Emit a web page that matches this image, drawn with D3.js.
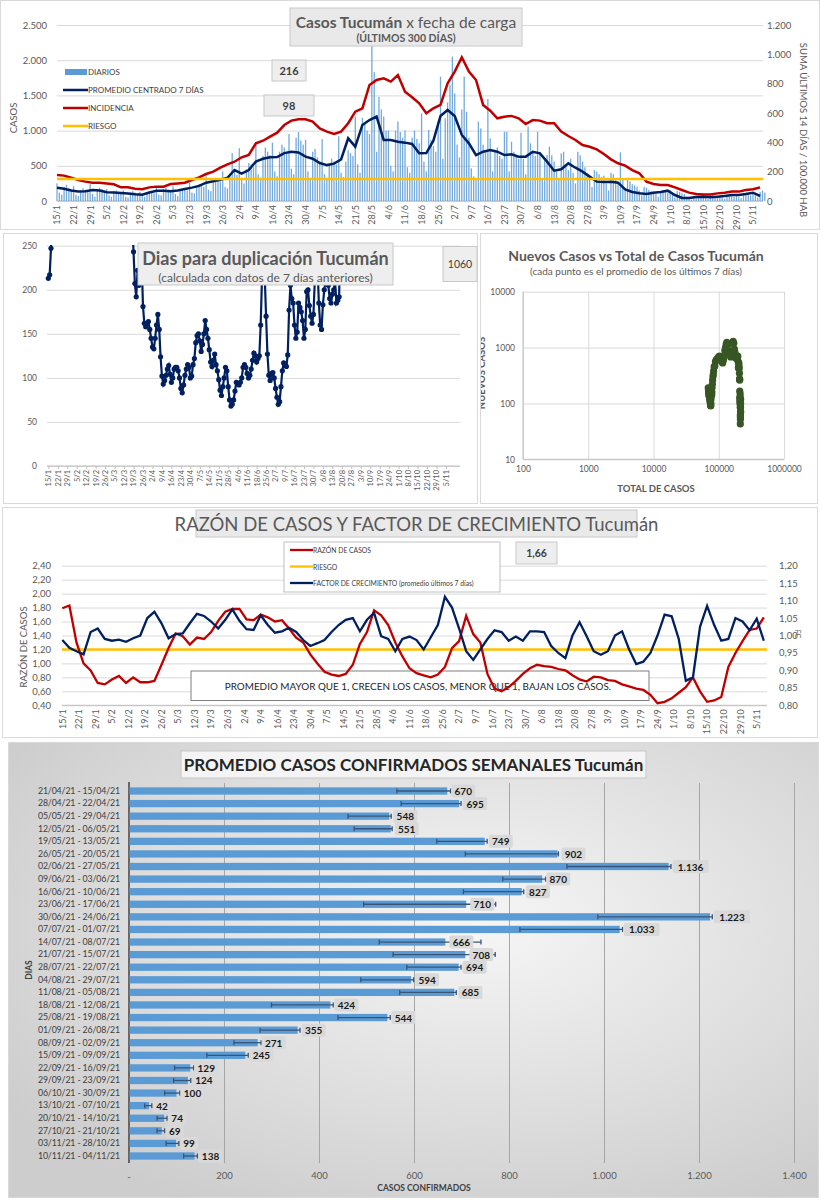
<!DOCTYPE html>
<html>
<head>
<meta charset="utf-8">
<script src="https://cdn.jsdelivr.net/npm/d3@7"></script>
<style>
  body { margin: 0; background: #fff; }
  svg { display: block; }
</style>
</head>
<body>
<svg id="chart" width="820" height="1200"></svg>
<script>
const FONT = "Lato, 'Open Sans', sans-serif"

// ---- data ----
const weekTicks = ["15/1","22/1","29/1","5/2","12/2","19/2","26/2","5/3","12/3","19/3","26/3","2/4","9/4","16/4","23/4","30/4","7/5","14/5","21/5","28/5","4/6","11/6","18/6","25/6","2/7","9/7","16/7","23/7","30/7","6/8","13/8","20/8","27/8","3/9","10/9","17/9","24/9","1/10","8/10","15/10","22/10","29/10","5/11"]

// casos diarios (300 dias desde 15/1)
const dailyCases = [
  250,120,90,200,230,180,160, 210,90,70,150,180,160,140, 240,100,60,170,190,170,150,
  170,80,60,140,150,130,110, 150,60,50,120,140,120,100, 130,70,60,110,130,120,110,
  190,90,80,170,190,160,150, 210,100,70,160,170,160,150, 260,120,110,210,240,220,200,
  350,160,140,290,330,300,280, 420,200,180,380,680,440,370, 750,300,250,450,540,520,480,
  820,380,330,640,760,700,650, 830,420,350,700,800,760,700, 950,460,380,900,980,860,800,
  870,420,330,700,740,620,560, 880,380,300,520,600,560,520, 920,400,340,560,720,680,640,
  1200,520,400,1180,1100,1000,950, 2200,1830,700,1480,1300,1200,1000, 1000,500,420,1000,1130,980,900,
  1000,480,400,900,1000,880,820, 1245,560,420,1008,866,780,700, 1127,1766,600,1174,1400,1648,2050,
  1529,800,620,1300,1766,1269,900, 464,350,300,1127,1032,800,700, 1449,890,420,700,760,640,600,
  985,985,420,843,700,650,600, 970,600,380,1056,819,700,640, 985,700,300,600,653,772,650,
  560,420,300,677,700,500,440, 600,400,250,700,650,560,480, 393,300,200,440,420,380,340,
  360,250,150,400,380,300,260, 691,300,150,298,280,240,220, 204,150,80,200,190,160,140,
  140,100,60,133,150,130,120, 150,90,50,140,130,110,100, 60,40,20,50,70,50,45,
  80,50,30,80,90,70,60, 70,50,30,70,80,70,60, 100,60,40,100,120,90,80,
  130,80,50,130,150,120
]
// promedio centrado 7 dias (cada 3 dias)
const avgCentered = [
  189,175,150,135,140,155,150,125,120,112,
  105,95,90,120,145,145,140,150,170,190,
  215,260,280,300,330,440,390,440,560,600,
  620,625,680,700,690,630,600,540,510,530,
  590,890,772,1080,1150,1200,866,866,843,829,
  810,677,680,857,1207,1293,1207,938,819,653,
  700,724,700,653,663,630,630,700,677,559,
  431,450,535,473,417,346,275,270,275,260,
  166,128,109,99,118,128,147,85,43,43,
  57,62,52,62,71,85,85,99,118,71
]
// incidencia 14 dias / 100.000 hab (cada 3 dias)
const incidence = [
  177,173,159,143,132,125,125,120,114,93,
  93,84,80,93,98,98,116,120,125,143,
  161,184,200,227,250,268,298,314,393,411,
  439,466,518,548,557,557,541,495,473,457,
  473,530,609,632,791,825,836,814,859,745,
  707,666,598,632,655,802,882,980,882,825,
  655,616,564,575,580,564,525,552,548,530,
  530,473,443,416,382,370,352,320,284,257,
  241,211,189,132,116,109,109,93,75,57,
  48,45,45,52,57,64,64,75,80,93
]
const riesgoIncidencia = 150

// dias para duplicacion
const dupHead = [213, 217, 247, 290]          // dias 0..3
const dupBodyStart = 62
const dupBody = [
  280,243,207,192,222,205,212,235,181,162,158,162,164,155,145,135,133,145,160,172,
  155,124,102,93,97,103,110,114,104,95,100,110,112,112,108,100,88,83,92,103,
  110,115,112,100,102,115,122,140,148,150,142,130,138,150,165,155,145,132,118,113,
  120,127,115,108,98,86,80,90,100,112,108,90,75,68,70,75,85,95,93,92,
  95,100,112,115,112,105,100,103,110,120,128,125,118,122,125,160,215,265,215,170,
  127,103,97,105,106,100,88,78,70,73,90,108,117,115,113,126,177,205,190,185,
  160,145,152,185,180,175,165,145,155,198,200,182,170,162,172,210,260,230,185,160,
  155,183,200,210,250,205,190,185,195,200,210,185,188,192,290
]

// nuevos casos vs total
const scatTotal = [69000,69500,70000,70500,71000,71300,71800,72200,72700,73000,
  73400,73800,74100,74500,74800,75100,75400,75800,76200,76600,
  77000,77500,78000,78500,79000,79800,80500,81500,82500,83500,
  85000,87000,89000,91500,94000,97000,100000,103000,106000,109000,
  112000,115000,118000,121000,124000,127000,130000,133000,137000,141000,
  145000,149000,152000,155000,158000,162000,166000,170000,174000,177000,
  180000,183000,186000,188000,191000,193000,196000,198000,200000,201500,
  203000,204500,206000,207500,208500,209000,209500,210000,210500,211000,
  211500,212000,212500,213000,213500,214000,214300,214600,214900,215200,
  215500,215800,216200,216600,217000]
const scatNew = [190,175,160,150,140,135,150,145,130,120,
  115,110,105,100,95,92,90,100,120,140,
  145,140,145,160,190,220,260,300,330,380,
  450,470,560,600,620,640,690,700,640,600,
  560,530,600,700,880,1000,1150,1245,1100,866,
  830,810,680,700,860,1200,1290,1200,940,820,
  660,700,720,650,640,630,700,560,430,450,
  530,470,420,346,275,270,260,166,128,109,
  99,118,128,147,85,43,57,62,52,62,
  71,85,99,118,71]

// razon de casos y factor de crecimiento (cada 3 dias)
const razon = [
  1.79,1.83,1.30,1.00,0.90,0.72,0.70,0.77,0.82,0.72,
  0.80,0.73,0.73,0.75,0.98,1.22,1.43,1.39,1.27,1.37,
  1.35,1.45,1.61,1.74,1.78,1.78,1.63,1.62,1.70,1.66,
  1.60,1.62,1.50,1.37,1.30,1.13,1.00,0.88,0.84,0.82,
  0.85,0.98,1.28,1.45,1.76,1.69,1.55,1.30,1.10,0.93,
  0.86,0.83,0.80,0.84,0.95,1.22,1.32,1.68,1.42,1.30,
  0.85,0.64,0.60,0.66,0.75,0.85,0.93,0.98,0.96,0.95,
  0.92,0.90,0.83,0.77,0.74,0.81,0.80,0.76,0.75,0.70,
  0.67,0.64,0.62,0.55,0.43,0.45,0.50,0.58,0.66,0.80,
  0.60,0.45,0.47,0.52,0.95,1.15,1.32,1.48,1.50,1.66
]
const factorCrec = [
  0.987,0.965,0.955,0.946,1.010,1.020,0.990,0.985,0.988,0.982,
  0.992,1.000,1.050,1.068,1.035,0.992,1.004,1.006,1.035,1.062,
  1.056,1.040,1.020,1.045,1.075,1.042,1.018,1.016,1.058,1.030,
  1.008,1.012,1.022,1.010,0.987,0.970,0.978,0.987,1.010,1.030,
  1.045,1.050,1.012,1.045,1.065,0.998,0.990,0.955,0.990,0.997,
  0.987,0.960,0.995,1.030,1.111,1.080,1.020,0.955,0.930,0.960,
  0.990,1.015,1.010,0.985,0.997,0.985,1.012,1.012,1.010,0.970,
  0.950,0.935,1.000,1.038,0.998,0.955,0.945,0.955,1.000,1.012,
  0.960,0.918,0.925,0.950,1.000,1.060,1.055,0.990,0.870,0.880,
  1.025,1.085,1.030,0.985,0.990,1.050,1.040,1.015,1.048,0.985
]
const riesgoRazon = 1.2

// promedio semanal
const weekCats = ["21/04/21 - 15/04/21","28/04/21 - 22/04/21","05/05/21 - 29/04/21","12/05/21 - 06/05/21",
  "19/05/21 - 13/05/21","26/05/21 - 20/05/21","02/06/21 - 27/05/21","09/06/21 - 03/06/21",
  "16/06/21 - 10/06/21","23/06/21 - 17/06/21","30/06/21 - 24/06/21","07/07/21 - 01/07/21",
  "14/07/21 - 08/07/21","21/07/21 - 15/07/21","28/07/21 - 22/07/21","04/08/21 - 29/07/21",
  "11/08/21 - 05/08/21","18/08/21 - 12/08/21","25/08/21 - 19/08/21","01/09/21 - 26/08/21",
  "08/09/21 - 02/09/21","15/09/21 - 09/09/21","22/09/21 - 16/09/21","29/09/21 - 23/09/21",
  "06/10/21 - 30/09/21","13/10/21 - 07/10/21","20/10/21 - 14/10/21","27/10/21 - 21/10/21",
  "03/11/21 - 28/10/21","10/11/21 - 04/11/21"]
const weekAvg = [670,695,548,551,749,902,1136,870,827,710,1223,1033,666,708,694,594,685,424,544,355,271,245,129,124,100,42,74,69,99,138]
const errLow  = [564,573,461,474,648,708,922,787,704,494,987,823,527,556,585,488,570,300,440,276,221,164,96,94,75,33,59,59,78,115]
const errHigh = [677,699,552,554,754,904,1141,877,831,772,1228,1039,741,771,699,599,689,430,550,360,278,251,136,130,107,48,80,75,105,144]

// ---- helpers ----
const loc = d3.formatLocale({decimal: ",", thousands: ".", grouping: [3], currency: ["$", ""]})
const fInt = loc.format(",")
const f2 = loc.format(",.2f")

const svg = d3.select("#chart")
const defs = svg.append("defs")

function panel(x, y, w, h, fill) {
  svg.append("rect").attr("x", x).attr("y", y).attr("width", w).attr("height", h)
    .attr("fill", fill || "#fff").attr("stroke", "#d9d9d9").attr("stroke-width", 1)
}
function labelBox(g, cx, cy, w, h, txt, size, bold) {
  g.append("rect").attr("x", cx - w/2).attr("y", cy - h/2).attr("width", w).attr("height", h)
    .attr("fill", "#eeeeee").attr("stroke", "#c8c8c8")
  g.append("text").attr("x", cx).attr("y", cy).attr("text-anchor", "middle")
    .attr("dominant-baseline", "central").attr("font-family", FONT).attr("font-size", size)
    .attr("font-weight", bold ? "bold" : "normal").attr("fill", "#404040").text(txt)
}
function styleAxis(g, size, color) {
  g.select(".domain").remove()
  g.selectAll("text").attr("font-family", FONT).attr("font-size", size).attr("fill", color || "#595959")
  g.selectAll("line").attr("stroke", "#d9d9d9")
}
function rotLabels(g, size) {
  g.selectAll("text").attr("transform", "rotate(-90)").attr("text-anchor", "end")
    .attr("x", -4).attr("y", 0).attr("dy", "0.32em").attr("font-size", size)
}

// =========== 1. Casos Tucumán x fecha de carga ===========
panel(0.5, 0.5, 819, 229)
const g1 = svg.append("g")
const x1 = d3.scaleLinear().domain([0, 294]).range([57, 753])
const y1 = d3.scaleLinear().domain([0, 2500]).range([201, 25])
const y1r = d3.scaleLinear().domain([0, 1200]).range([201, 25])

g1.append("g").attr("transform", "translate(57,0)")
  .call(d3.axisLeft(y1).tickValues(d3.range(0, 2501, 500)).tickSize(-706).tickPadding(10).tickFormat(fInt))
  .call(g => styleAxis(g, 9.5))
g1.append("g").attr("transform", "translate(763,0)")
  .call(d3.axisRight(y1r).tickValues(d3.range(0, 1201, 200)).tickSize(0).tickPadding(4).tickFormat(fInt))
  .call(g => styleAxis(g, 9.5))
g1.append("g").attr("transform", "translate(0,201)")
  .call(d3.axisBottom(x1).tickValues(weekTicks.map((_, i) => i * 7)).tickSize(0).tickFormat((d, i) => weekTicks[i]))
  .call(g => styleAxis(g, 9))
  .call(g => rotLabels(g, 9))
g1.append("line").attr("x1", 57).attr("x2", 763).attr("y1", 201).attr("y2", 201).attr("stroke", "#bfbfbf")

g1.append("g").selectAll("rect").data(dailyCases).join("rect")
  .attr("x", (d, i) => x1(i) - 0.65).attr("width", 1.3)
  .attr("y", d => y1(d)).attr("height", d => 201 - y1(d))
  .attr("fill", "#5b9bd5").attr("opacity", 0.85)

g1.append("path").datum(incidence)
  .attr("d", d3.line().x((d, i) => x1(i * 3)).y(d => y1r(d)))
  .attr("fill", "none").attr("stroke", "#c00000").attr("stroke-width", 2.5)
g1.append("path").datum(avgCentered)
  .attr("d", d3.line().x((d, i) => x1(i * 3)).y(d => y1(d)))
  .attr("fill", "none").attr("stroke", "#002060").attr("stroke-width", 2.5)
g1.append("line").attr("x1", 57).attr("x2", 763)
  .attr("y1", y1r(riesgoIncidencia)).attr("y2", y1r(riesgoIncidencia))
  .attr("stroke", "#ffc000").attr("stroke-width", 2.5)

g1.append("text").attr("transform", "translate(17,118) rotate(-90)").attr("text-anchor", "middle")
  .attr("font-family", FONT).attr("font-size", 9.5).attr("fill", "#595959").text("CASOS")
g1.append("text").attr("transform", "translate(800,130) rotate(90)").attr("text-anchor", "middle")
  .attr("font-family", FONT).attr("font-size", 9.5).attr("fill", "#595959").text("SUMA  ÚLTIMOS 14 DÍAS / 100.000 HAB")

// legend
const leg1 = [["DIARIOS", "bar", "#5b9bd5"], ["PROMEDIO CENTRADO 7 DÍAS", "line", "#002060"],
              ["INCIDENCIA", "line", "#c00000"], ["RIESGO", "line", "#ffc000"]]
leg1.forEach((d, i) => {
  const yy = 72 + i * 18
  if (d[1] === "bar") g1.append("rect").attr("x", 65).attr("y", yy - 3).attr("width", 22).attr("height", 6).attr("fill", d[2])
  else g1.append("line").attr("x1", 63).attr("x2", 88).attr("y1", yy).attr("y2", yy).attr("stroke", d[2]).attr("stroke-width", 2.5)
  g1.append("text").attr("x", 88).attr("y", yy).attr("dominant-baseline", "central")
    .attr("font-family", FONT).attr("font-size", 8).attr("fill", "#404040").text(d[0])
})

// title
g1.append("rect").attr("x", 290).attr("y", 8).attr("width", 232).attr("height", 38).attr("fill", "#e9e9e9").attr("stroke", "#c8c8c8")
const t1 = g1.append("text").attr("x", 406).attr("y", 22).attr("text-anchor", "middle").attr("dominant-baseline", "central")
  .attr("font-family", FONT).attr("font-size", 15.5).attr("fill", "#595959")
t1.append("tspan").attr("font-weight", "bold").text("Casos Tucumán")
t1.append("tspan").text(" x fecha de carga")
g1.append("text").attr("x", 406).attr("y", 38).attr("text-anchor", "middle").attr("dominant-baseline", "central")
  .attr("font-family", FONT).attr("font-size", 10.5).attr("font-weight", "bold").attr("fill", "#595959").text("(ÚLTIMOS 300 DÍAS)")
labelBox(g1, 289, 70.5, 34, 21, "216", 11, true)
labelBox(g1, 289, 105.5, 50, 21, "98", 11, true)

// =========== 2. Dias para duplicacion ===========
panel(3.5, 233.5, 474, 270)
const g2 = svg.append("g")
const x2 = d3.scaleLinear().domain([0, 294]).range([48.3, 446])
const y2 = d3.scaleLinear().domain([0, 250]).range([466, 245.7])
g2.append("g").attr("transform", "translate(47,0)")
  .call(d3.axisLeft(y2).tickValues(d3.range(0, 251, 50)).tickSize(-413).tickPadding(10))
  .call(g => styleAxis(g, 8.5))
g2.append("g").attr("transform", "translate(0,466)")
  .call(d3.axisBottom(x2).tickValues(weekTicks.map((_, i) => i * 7)).tickSize(3).tickFormat((d, i) => weekTicks[i]))
  .call(g => styleAxis(g, 7.5))
  .call(g => rotLabels(g, 7.5))
  .call(g => g.selectAll("line").attr("stroke", "#bfbfbf"))
g2.append("line").attr("x1", 47).attr("x2", 460).attr("y1", 466).attr("y2", 466).attr("stroke", "#bfbfbf")

defs.append("clipPath").attr("id", "clipDup").append("rect").attr("x", 40).attr("y", 245).attr("width", 430).attr("height", 230)
const dupG = g2.append("g").attr("clip-path", "url(#clipDup)")
const dupSeries = [dupHead.map((v, i) => [i, v]), dupBody.map((v, i) => [dupBodyStart + i, v])]
dupSeries.forEach(s => {
  dupG.append("path").datum(s).attr("d", d3.line().x(d => x2(d[0])).y(d => y2(d[1])))
    .attr("fill", "none").attr("stroke", "#002060").attr("stroke-width", 2.2)
  dupG.append("g").selectAll("circle").data(s).join("circle")
    .attr("cx", d => x2(d[0])).attr("cy", d => y2(d[1])).attr("r", 2.6).attr("fill", "#002060")
})
g2.append("rect").attr("x", 138).attr("y", 243).attr("width", 255).attr("height", 42).attr("fill", "#eeeeee").attr("stroke", "#c8c8c8")
g2.append("text").attr("x", 265.5).attr("y", 258).attr("text-anchor", "middle").attr("dominant-baseline", "central")
  .attr("font-family", FONT).attr("font-size", 18).attr("font-weight", "bold").attr("fill", "#595959").text("Dias para duplicación Tucumán")
g2.append("text").attr("x", 265.5).attr("y", 277).attr("text-anchor", "middle").attr("dominant-baseline", "central")
  .attr("font-family", FONT).attr("font-size", 12).attr("fill", "#595959").text("(calculada con datos de 7 días anteriores)")
labelBox(g2, 460, 264, 34, 35, "1060", 10.5, false)

// =========== 3. Nuevos casos vs total ===========
panel(480.5, 233.5, 337, 270)
defs.append("clipPath").attr("id", "clipSc").append("rect").attr("x", 481).attr("y", 234).attr("width", 336).attr("height", 269)
const g3 = svg.append("g").attr("clip-path", "url(#clipSc)")
const x3 = d3.scaleLog().domain([100, 1e6]).range([523, 784])
const y3 = d3.scaleLog().domain([10, 1e4]).range([459.3, 291.7])
g3.append("g").attr("transform", "translate(523,0)")
  .call(d3.axisLeft(y3).tickValues([10, 100, 1000, 10000]).tickSize(-261).tickPadding(8).tickFormat(d3.format("d")))
  .call(g => styleAxis(g, 8.5))
g3.append("g").attr("transform", "translate(0,459.3)")
  .call(d3.axisBottom(x3).tickValues([100, 1000, 10000, 100000, 1000000]).tickSize(-167.6).tickPadding(7).tickFormat(d3.format("d")))
  .call(g => styleAxis(g, 8.5))
g3.append("line").attr("x1", 523).attr("x2", 523).attr("y1", 291.7).attr("y2", 459.3).attr("stroke", "#bfbfbf")
g3.append("line").attr("x1", 523).attr("x2", 784).attr("y1", 459.3).attr("y2", 459.3).attr("stroke", "#bfbfbf")
g3.append("g").selectAll("circle").data(scatTotal).join("circle")
  .attr("cx", d => x3(d)).attr("cy", (d, i) => y3(scatNew[i])).attr("r", 3.6).attr("fill", "#375623")
g3.append("text").attr("x", 636).attr("y", 255).attr("text-anchor", "middle").attr("dominant-baseline", "central")
  .attr("font-family", FONT).attr("font-size", 14).attr("font-weight", "bold").attr("fill", "#595959").text("Nuevos Casos vs Total de Casos Tucumán")
g3.append("text").attr("x", 636).attr("y", 271).attr("text-anchor", "middle").attr("dominant-baseline", "central")
  .attr("font-family", FONT).attr("font-size", 10).attr("fill", "#595959").text("(cada punto es el promedio de los últimos 7 días)")
g3.append("text").attr("x", 656).attr("y", 488).attr("text-anchor", "middle").attr("dominant-baseline", "central")
  .attr("font-family", FONT).attr("font-size", 9.5).attr("font-weight", "bold").attr("fill", "#595959").text("TOTAL DE CASOS")
g3.append("text").attr("transform", "translate(481,373) rotate(-90)").attr("text-anchor", "middle").attr("dominant-baseline", "central")
  .attr("font-family", FONT).attr("font-size", 9.5).attr("font-weight", "bold").attr("fill", "#595959").text("NUEVOS CASOS")

// =========== 4. Razón de casos y factor de crecimiento ===========
panel(2.5, 507.5, 815, 230)
const g4 = svg.append("g")
const x4 = d3.scaleLinear().domain([0, 294]).range([62.3, 756.7])
const y4 = d3.scaleLinear().domain([0.4, 2.4]).range([705.3, 565.7])
const y4r = d3.scaleLinear().domain([0.8, 1.2]).range([705.3, 565.7])
g4.append("g").attr("transform", "translate(62,0)")
  .call(d3.axisLeft(y4).tickValues(d3.range(0, 11).map(i => 0.4 + i * 0.2)).tickSize(-705).tickPadding(11).tickFormat(f2))
  .call(g => styleAxis(g, 9.5))
g4.append("g").attr("transform", "translate(767,0)")
  .call(d3.axisRight(y4r).tickValues(d3.range(0, 9).map(i => 0.8 + i * 0.05)).tickSize(0).tickPadding(12).tickFormat(f2))
  .call(g => styleAxis(g, 9.5))
g4.append("g").attr("transform", "translate(0,705.3)")
  .call(d3.axisBottom(x4).tickValues(weekTicks.map((_, i) => i * 7)).tickSize(0).tickFormat((d, i) => weekTicks[i]))
  .call(g => styleAxis(g, 9))
  .call(g => rotLabels(g, 9))
g4.append("line").attr("x1", 62).attr("x2", 767).attr("y1", 705.3).attr("y2", 705.3).attr("stroke", "#bfbfbf")

// annotation box
g4.append("rect").attr("x", 191).attr("y", 671).attr("width", 458).attr("height", 29.5).attr("fill", "#fff").attr("stroke", "#7f7f7f")
g4.append("text").attr("x", 418).attr("y", 686).attr("text-anchor", "middle").attr("dominant-baseline", "central")
  .attr("font-family", FONT).attr("font-size", 9.9).attr("fill", "#262626")
  .text("PROMEDIO MAYOR QUE 1, CRECEN LOS CASOS, MENOR QUE 1, BAJAN LOS CASOS.")

g4.append("line").attr("x1", 62).attr("x2", 767).attr("y1", y4(riesgoRazon)).attr("y2", y4(riesgoRazon))
  .attr("stroke", "#ffc000").attr("stroke-width", 2.5)
g4.append("path").datum(razon)
  .attr("d", d3.line().x((d, i) => x4(i * 3)).y(d => y4(d)))
  .attr("fill", "none").attr("stroke", "#c00000").attr("stroke-width", 2.3)
g4.append("path").datum(factorCrec)
  .attr("d", d3.line().x((d, i) => x4(i * 3)).y(d => y4r(d)))
  .attr("fill", "none").attr("stroke", "#002060").attr("stroke-width", 2.3)

g4.append("rect").attr("x", 196).attr("y", 510).attr("width", 441).attr("height", 27).attr("fill", "#e9e9e9").attr("stroke", "#c8c8c8")
g4.append("text").attr("x", 416.5).attr("y", 524).attr("text-anchor", "middle").attr("dominant-baseline", "central")
  .attr("font-family", FONT).attr("font-size", 18.5).attr("fill", "#595959").text("RAZÓN DE CASOS Y FACTOR DE CRECIMIENTO Tucumán")
g4.append("text").attr("transform", "translate(23,647) rotate(-90)").attr("text-anchor", "middle").attr("dominant-baseline", "central")
  .attr("font-family", FONT).attr("font-size", 9.5).attr("fill", "#595959").text("RAZÓN DE CASOS")
g4.append("text").attr("transform", "translate(798,634) rotate(90)").attr("text-anchor", "middle").attr("dominant-baseline", "central")
  .attr("font-family", FONT).attr("font-size", 7).attr("fill", "#595959").text("FC")

g4.append("rect").attr("x", 284).attr("y", 542).attr("width", 216).attr("height", 50).attr("fill", "#fff").attr("stroke", "#bfbfbf")
const leg4 = [["RAZÓN DE CASOS", "#c00000"], ["RIESGO", "#ffc000"], ["FACTOR DE CRECIMIENTO (promedio últimos 7 días)", "#002060"]]
leg4.forEach((d, i) => {
  const yy = 550 + i * 16.5
  g4.append("line").attr("x1", 290).attr("x2", 313).attr("y1", yy).attr("y2", yy).attr("stroke", d[1]).attr("stroke-width", 2.3)
  g4.append("text").attr("x", 313).attr("y", yy).attr("dominant-baseline", "central")
    .attr("font-family", FONT).attr("font-size", 6.8).attr("fill", "#404040").text(d[0])
})
labelBox(g4, 536.5, 553, 41, 22, "1,66", 10.5, true)

// =========== 5. Promedio casos confirmados semanales ===========
const grad = defs.append("radialGradient").attr("id", "bgGrad").attr("cx", "58%").attr("cy", "40%").attr("r", "70%")
grad.append("stop").attr("offset", "0%").attr("stop-color", "#f6f6f6")
grad.append("stop").attr("offset", "100%").attr("stop-color", "#cdcdcd")
panel(8.5, 742.5, 810, 455, "url(#bgGrad)")
const g5 = svg.append("g")
const x5 = d3.scaleLinear().domain([0, 1400]).range([129, 794])
const y5 = d3.scaleBand().domain(weekCats).range([784.7, 1162.3]).paddingInner(0.42).paddingOuter(0.21)

g5.append("g").attr("transform", "translate(0,1163)")
  .call(d3.axisBottom(x5).tickValues(d3.range(200, 1401, 200)).tickSize(-380).tickPadding(9).tickFormat(fInt))
  .call(g => styleAxis(g, 9.5))
  .call(g => g.selectAll("line").attr("stroke", "#a6a6a6"))
g5.append("text").attr("x", 129).attr("y", 1176).attr("text-anchor", "middle").attr("dominant-baseline", "central")
  .attr("font-family", FONT).attr("font-size", 9.5).attr("fill", "#595959").text("-")
g5.append("g").attr("transform", "translate(129,0)")
  .call(d3.axisLeft(y5).tickSize(0).tickPadding(9))
  .call(g => styleAxis(g, 8.8, "#404040"))
  .call(g => g.selectAll("text").attr("letter-spacing", -0.15))
g5.append("line").attr("x1", 129).attr("x2", 129).attr("y1", 782).attr("y2", 1163).attr("stroke", "#404040").attr("stroke-width", 1.5)

g5.append("g").selectAll("rect").data(weekAvg).join("rect")
  .attr("x", 129.5).attr("y", (d, i) => y5(weekCats[i]))
  .attr("width", d => x5(d) - 129.5).attr("height", y5.bandwidth())
  .attr("fill", "#5b9bd5")

const err = g5.append("g").attr("stroke", "#3a5475").attr("stroke-width", 1.3)
weekAvg.forEach((v, i) => {
  const cy = y5(weekCats[i]) + y5.bandwidth() / 2
  err.append("line").attr("x1", x5(errLow[i])).attr("x2", x5(errHigh[i])).attr("y1", cy).attr("y2", cy)
  err.append("line").attr("x1", x5(errLow[i])).attr("x2", x5(errLow[i])).attr("y1", cy - 2.5).attr("y2", cy + 2.5)
  err.append("line").attr("x1", x5(errHigh[i])).attr("x2", x5(errHigh[i])).attr("y1", cy - 2.5).attr("y2", cy + 2.5)
})

const lab = g5.append("g")
weekAvg.forEach((v, i) => {
  const cy = y5(weekCats[i]) + y5.bandwidth() / 2
  const txt = fInt(v)
  const w = txt.length * 6 + 6
  const lx = x5(v) + 4
  lab.append("rect").attr("x", lx).attr("y", cy - 6.5).attr("width", w).attr("height", 13).attr("rx", 2).attr("fill", "#d9d9d9")
  lab.append("text").attr("x", lx + w / 2).attr("y", cy).attr("text-anchor", "middle").attr("dominant-baseline", "central")
    .attr("font-family", FONT).attr("font-size", 10).attr("font-weight", "bold").attr("fill", "#1a1a1a").text(txt)
})

g5.append("rect").attr("x", 181).attr("y", 751).attr("width", 465).attr("height", 27).attr("fill", "#f4f4f4").attr("stroke", "#c8c8c8")
g5.append("text").attr("x", 413.5).attr("y", 764.5).attr("text-anchor", "middle").attr("dominant-baseline", "central")
  .attr("font-family", FONT).attr("font-size", 17).attr("font-weight", "bold").attr("fill", "#262626").text("PROMEDIO CASOS CONFIRMADOS SEMANALES Tucumán")
g5.append("text").attr("transform", "translate(29,970) rotate(-90)").attr("text-anchor", "middle").attr("dominant-baseline", "central")
  .attr("font-family", FONT).attr("font-size", 8.5).attr("font-weight", "bold").attr("fill", "#404040").text("DIAS")
g5.append("text").attr("x", 424).attr("y", 1188).attr("text-anchor", "middle").attr("dominant-baseline", "central")
  .attr("font-family", FONT).attr("font-size", 8.5).attr("font-weight", "bold").attr("fill", "#404040").text("CASOS CONFIRMADOS")
</script>
</body>
</html>
